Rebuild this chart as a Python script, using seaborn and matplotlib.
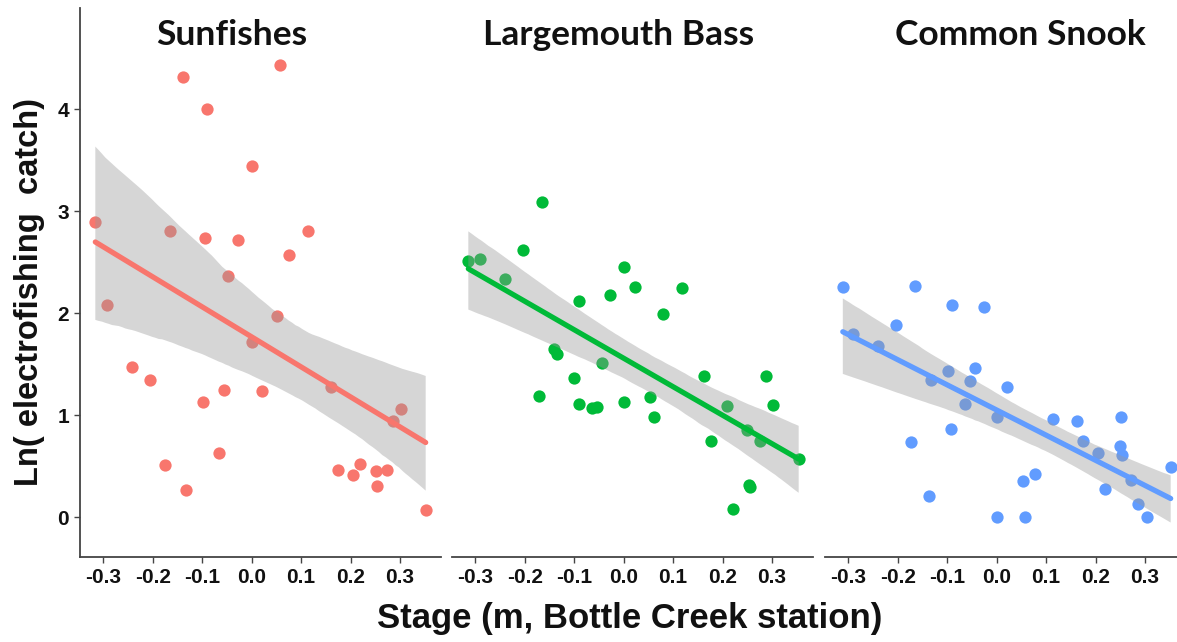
import numpy as np
import pandas as pd
import matplotlib
matplotlib.use("Agg")
import matplotlib.pyplot as plt
from matplotlib.collections import PolyCollection
import seaborn as sns

# Stage (m) and ln(electrofishing catch) for each taxon
species = ["Sunfishes", "Largemouth Bass", "Common Snook"]
colors = ["#F8766D", "#00BA38", "#619CFF"]

sunfish_stage = [-0.316, -0.293, -0.242, -0.205, -0.175, -0.165, -0.139, -0.132,
                 -0.099, -0.094, -0.090, -0.066, -0.055, -0.047, -0.027, 0.000,
                 0.000, 0.022, 0.052, 0.058, 0.076, 0.115, 0.161, 0.175,
                 0.206, 0.219, 0.251, 0.253, 0.273, 0.285, 0.303, 0.352]
sunfish_catch = [2.89, 2.08, 1.47, 1.34, 0.51, 2.80, 4.31, 0.27,
                 1.13, 2.74, 4.00, 0.63, 1.25, 2.36, 2.72, 3.44,
                 1.72, 1.24, 1.97, 4.43, 2.57, 2.80, 1.28, 0.46,
                 0.41, 0.52, 0.45, 0.31, 0.46, 0.94, 1.06, 0.07]

bass_stage = [-0.314, -0.291, -0.239, -0.204, -0.172, -0.164, -0.140, -0.135,
              -0.100, -0.091, -0.091, -0.064, -0.054, -0.044, -0.027, 0.000,
              0.000, 0.024, 0.054, 0.061, 0.079, 0.118, 0.162, 0.177,
              0.209, 0.221, 0.249, 0.253, 0.256, 0.275, 0.288, 0.303, 0.354]
bass_catch = [2.51, 2.53, 2.33, 2.62, 1.19, 3.09, 1.65, 1.60,
              1.36, 2.12, 1.11, 1.07, 1.08, 1.51, 2.18, 2.45,
              1.13, 2.26, 1.18, 0.98, 1.99, 2.25, 1.38, 0.75,
              1.09, 0.08, 0.85, 0.32, 0.30, 0.75, 1.38, 1.10, 0.57]

snook_stage = [-0.311, -0.291, -0.239, -0.204, -0.174, -0.164, -0.137, -0.133,
               -0.098, -0.093, -0.090, -0.064, -0.053, -0.044, -0.026, 0.000,
               0.001, 0.021, 0.053, 0.058, 0.077, 0.115, 0.162, 0.175,
               0.206, 0.220, 0.250, 0.252, 0.253, 0.272, 0.285, 0.304, 0.352]
snook_catch = [2.26, 1.80, 1.68, 1.88, 0.74, 2.27, 0.21, 1.34,
               1.43, 0.86, 2.08, 1.11, 1.33, 1.46, 2.06, 0.00,
               0.98, 1.28, 0.35, 0.00, 0.42, 0.96, 0.94, 0.75,
               0.63, 0.28, 0.70, 0.98, 0.61, 0.36, 0.13, 0.00, 0.49]

x_ticks = [-0.3, -0.2, -0.1, 0.0, 0.1, 0.2, 0.3]
x_tick_labels = ["-0.3", "-0.2", "-0.1", "0.0", "0.1", "0.2", "0.3"]
y_ticks = [0, 1, 2, 3, 4]

frames = [
    pd.DataFrame({"stage": sunfish_stage, "catch": sunfish_catch}),
    pd.DataFrame({"stage": bass_stage, "catch": bass_catch}),
    pd.DataFrame({"stage": snook_stage, "catch": snook_catch}),
]

sns.set_theme(style="white")
plt.rcParams["font.family"] = ["Liberation Sans", "DejaVu Sans"]

W, H = 1177, 642
fig = plt.figure(figsize=(W / 100, H / 100), dpi=100)

panel_left = [80, 452, 825]
panel_w = 361
bottom_px, top_px = 557, 8

axes = []
for i, (name, col, df) in enumerate(zip(species, colors, frames)):
    ax = fig.add_axes([panel_left[i] / W, 1 - bottom_px / H,
                       panel_w / W, (bottom_px - top_px) / H])
    sns.regplot(data=df, x="stage", y="catch", ax=ax, ci=95, n_boot=2000, seed=11,
                scatter_kws=dict(s=78, color=col, alpha=1, linewidths=0),
                line_kws=dict(color=col, lw=3.8))
    # grey confidence ribbon laid over the points
    for coll in ax.collections:
        if isinstance(coll, PolyCollection):
            coll.set_facecolor("#999999")
            coll.set_alpha(0.4)
            coll.set_edgecolor("none")
    ax.set_xlim(-0.347, 0.383)
    ax.set_ylim(-0.39, 4.99)
    ax.set_xticks(x_ticks)
    ax.set_xticklabels(x_tick_labels, fontsize=15, fontweight="bold", color="#111111")
    ax.set_xlabel("")
    ax.set_ylabel("")
    ax.tick_params(axis="x", bottom=True, length=4, width=1, color="#444444", pad=4)
    for s in ["top", "right"]:
        ax.spines[s].set_visible(False)
    ax.spines["bottom"].set_color("#444444")
    ax.spines["bottom"].set_linewidth(1.3)
    if i == 0:
        ax.set_yticks(y_ticks)
        ax.set_yticklabels([str(v) for v in y_ticks], fontsize=15,
                           fontweight="bold", color="#111111")
        ax.tick_params(axis="y", left=True, length=4, width=1, color="#444444", pad=4)
        ax.spines["left"].set_color("#444444")
        ax.spines["left"].set_linewidth(1.3)
    else:
        ax.set_yticks([])
        ax.spines["left"].set_visible(False)
    ax.patch.set_alpha(0)
    axes.append(ax)

# panel headings
title_x = [232, 619, 1020]
for name, tx in zip(species, title_x):
    fig.text(tx / W, 1 - 45 / H, name, ha="center", va="baseline",
             fontsize=25.5, fontweight="bold", family=["Lato", "DejaVu Sans"],
             color="#111111",
             bbox=dict(boxstyle="square,pad=0.2", facecolor="white", edgecolor="none"))

fig.text(30 / W, 1 - 292 / H, "Ln( electrofishing  catch)", rotation=90,
         ha="center", va="center", fontsize=23.5, fontweight="bold", color="#111111")
fig.text(630 / W, 1 - 628 / H, "Stage (m, Bottle Creek station)",
         ha="center", va="baseline", fontsize=25, fontweight="bold", color="#111111")

fig.savefig("out.png", dpi=100)
